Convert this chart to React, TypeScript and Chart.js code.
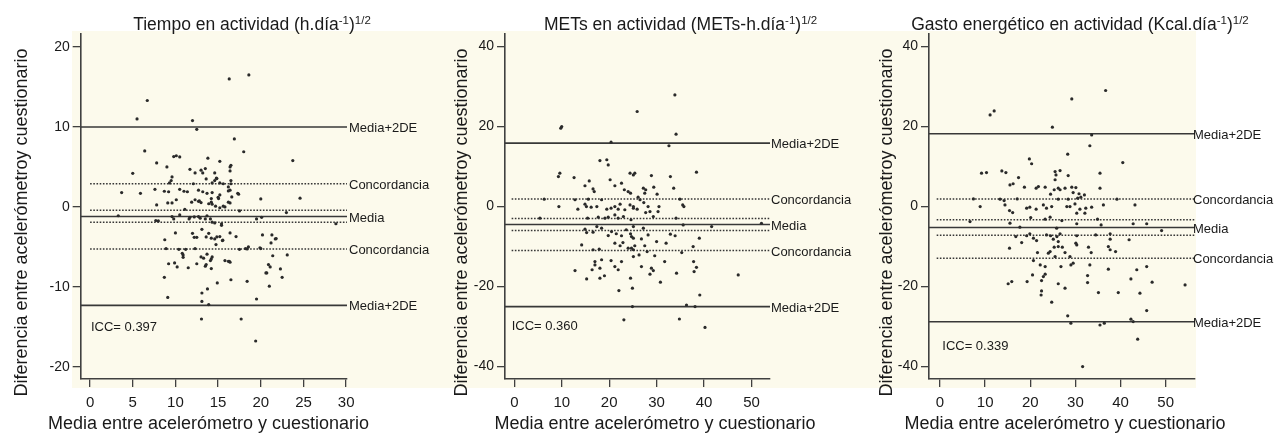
import React, { useEffect, useRef } from 'react';
import { Chart, registerables } from 'chart.js';

Chart.register(...registerables);

const FONT = '"Liberation Sans", Arial, Helvetica, sans-serif';

// ---------------- DATA ----------------
const p1Title = ['Tiempo en actividad (h.día', '-1', ')', '1/2'];
const p2Title = ['METs en actividad (METs-h.día', '-1', ')', '1/2'];
const p3Title = ['Gasto energético en actividad (Kcal.día', '-1', ')', '1/2'];

const yAxisTitle = 'Diferencia entre acelerómetroy cuestionario';
const xAxisTitle = 'Media entre acelerómetro y cuestionario';

const lineLabels = ['Media+2DE', 'Concordancia', '', 'Media', '', 'Concordancia', 'Media+2DE'];
const lineDotted = [false, true, true, false, true, true, false];

const p1Lines = [10.0, 2.9, -0.4, -1.2, -1.9, -5.25, -12.3];
const p2Lines = [15.85, 1.9, -3.0, -4.5, -6.0, -11.0, -25.0];
const p3Lines = [18.2, 1.9, -3.3, -5.25, -7.15, -12.9, -28.8];

const p1Icc = 'ICC= 0.397';
const p2Icc = 'ICC= 0.360';
const p3Icc = 'ICC= 0.339';

const p1XTicks = [0, 5, 10, 15, 20, 25, 30];
const p1YTicks = [-20, -10, 0, 10, 20];
const p2XTicks = [0, 10, 20, 30, 40, 50];
const p2YTicks = [-40, -20, 0, 20, 40];
const p3XTicks = [0, 10, 20, 30, 40, 50];
const p3YTicks = [-40, -20, 0, 20, 40];

const p1Points: [number, number][] = [
  [16.3, 16.0], [18.6, 16.5], [6.7, 13.3], [5.5, 11.0], [12.0, 10.8], [12.5, 9.7], [16.9, 8.5], [6.4, 7.0],
  [18.0, 6.9], [23.75, 5.8], [7.8, 5.5], [5.0, 4.2], [9.0, 5.0], [9.8, 6.3], [10.1, 6.4], [10.5, 6.25],
  [13.8, 6.1], [15.2, 5.7], [11.7, 4.7], [13.0, 4.6], [13.2, 4.25], [13.5, 4.8], [14.6, 4.25], [16.5, 5.2],
  [16.4, 5.0], [16.4, 4.5], [9.6, 3.75], [9.5, 3.3], [9.3, 3.0], [12.1, 2.9], [13.6, 3.5], [14.6, 3.3],
  [14.8, 3.6], [14.3, 3.0], [16.5, 3.3], [16.5, 2.9], [16.2, 2.5], [3.7, 1.8], [5.9, 1.7], [7.6, 2.2],
  [9.2, 1.9], [10.5, 2.2], [11.4, 1.9], [12.7, 2.1], [13.7, 1.7], [14.3, 1.8], [15.2, 1.5], [16.2, 2.0],
  [17.3, 1.7], [7.8, 0.25], [9.1, 0.5], [9.6, 0.5], [10.1, 0.9], [11.1, -0.3], [12.7, 0.7], [13.9, 0.4],
  [15.0, 1.2], [15.6, 0.1], [16.4, 0.5], [20.0, 1.0], [24.6, 1.1], [23.0, -0.7], [3.3, -1.1], [7.7, -1.7],
  [9.6, -1.2], [10.5, -1.0], [11.6, -1.5], [12.7, -1.2], [13.5, -1.5], [14.3, -1.9], [14.6, -2.0], [15.4, -2.1],
  [17.5, -0.5], [19.5, -1.5], [20.1, -1.3], [28.8, -2.1], [10.0, -3.25], [12.0, -3.3], [12.5, -3.8], [13.1, -2.8],
  [13.9, -3.3], [14.6, -4.0], [15.2, -3.7], [15.5, -4.2], [16.4, -3.25], [17.1, -3.7], [20.2, -3.5], [21.3, -3.5],
  [21.7, -4.0], [21.2, -4.5], [8.75, -4.1], [8.9, -5.2], [10.4, -5.3], [11.2, -5.3], [17.5, -5.3], [18.4, -5.25],
  [20.0, -5.2], [10.9, -6.0], [10.9, -6.3], [13.3, -6.4], [13.7, -5.9], [14.2, -6.5], [16.2, -6.8], [16.4, -6.9],
  [21.4, -6.1], [23.1, -6.0], [9.2, -7.1], [10.2, -7.5], [11.5, -7.6], [12.5, -7.1], [13.6, -7.2], [14.2, -7.7],
  [20.9, -7.2], [21.1, -7.5], [22.3, -7.75], [8.7, -8.8], [14.9, -9.5], [16.5, -9.1], [18.4, -9.3], [20.7, -8.25],
  [22.5, -8.8], [21.0, -9.9], [9.1, -11.3], [13.1, -10.75], [13.75, -10.25], [13.1, -11.8], [13.9, -12.2], [19.5, -11.5],
  [13.05, -14.0], [17.7, -14.0], [19.4, -16.75],
  [12.3, 4.25], [8.7, 1.96], [11.0, 1.96], [13.2, 1.9], [11.9, 0.6], [12.3, 0.9], [12.8, 0.75], [13.0, 0.55],
  [14.3, 0.35], [8.0, -1.75], [9.8, -1.5], [11.7, -1.3], [12.2, -1.25], [12.9, -1.4], [13.7, -1.1], [14.1, -1.5],
  [12.2, -3.8], [13.6, -3.75], [14.2, -3.9], [10.8, -5.8], [12.3, -5.2], [13.0, -6.25], [14.3, -6.25], [9.9, -7.0],
  [13.5, -7.4], [14.1, -6.7], [14.85, 3.55], [15.2, 3.0], [15.6, 2.9], [16.4, 2.1], [17.4, 1.6], [16.6, 1.25],
  [16.2, 0.6], [15.8, 0.0], [15.2, -0.1], [14.7, 0.1], [15.05, 1.05], [14.2, 1.05], [14.2, 0.6], [15.4, -2.3],
  [14.85, -3.75], [15.55, -4.15], [14.75, -4.7], [21.8, -3.95], [18.2, -5.2], [18.55, -5.0], [19.9, -5.1], [15.8, -6.7],
  [16.3, -6.8], [20.6, -8.25],
];

const p2Points: [number, number][] = [
  [33.85, 27.9], [25.9, 23.75],
  [10.0, 20.0], [9.8, 19.6], [18.05, 11.5], [19.5, 11.7], [19.8, 10.4], [20.4, 16.1],
  [9.3, 7.5], [9.6, 8.35], [12.6, 7.25], [14.9, 5.2], [15.8, 6.4], [16.6, 4.4], [16.85, 3.75], [20.2, 6.7],
  [21.2, 5.2], [22.6, 5.85], [23.2, 4.2], [24.0, 3.75], [24.4, 8.35], [25.1, 7.9],
  [6.3, 1.85], [9.4, 0], [12.8, 1.7], [13.4, -0.65], [14.9, 0.6], [15.2, 0], [15.6, 1.85], [16.2, -0.15],
  [17.4, 0], [18.4, 1.7], [19.5, -0.65], [20.4, -0.4], [21.2, 0], [21.9, -0.65], [22.3, 0.6], [23.3, -0.8],
  [24.4, 0.4], [25.1, -0.4],
  [5.4, -2.9], [15.45, -2.9], [17.7, -2.65], [19.1, -2.9], [19.8, -2.65], [21.2, -2.1], [21.9, -2.9], [23.0, -2.5],
  [24.6, -3.3],
  [14.9, -5.65], [15.25, -6.5], [16.6, -6.4], [17.4, -5.0], [18.4, -5.4], [19.8, -7.25], [20.5, -6.25], [21.5, -6.8],
  [22.6, -7.3], [23.6, -5.8], [24.5, -6.8], [25.1, -7.9], [14.2, -9.6], [16.6, -10.8], [17.9, -10.65], [21.2, -9.15],
  [22.3, -9.8], [22.9, -9.0], [24.0, -10.4], [25.1, -10.8],
  [17.0, -13.75], [18.4, -13.3], [17.0, -14.6], [18.05, -15.4], [20.4, -13.5], [21.2, -15.0], [21.9, -15.8], [22.6, -13.75],
  [12.8, -16.0], [16.4, -15.8], [15.25, -18.1], [18.05, -17.9], [19.0, -17.3], [22.05, -21.0], [23.1, -28.3],
  [34.1, 18.1], [32.6, 15.2],
  [25.4, 8.35], [28.9, 7.75], [32.9, 7.5], [38.4, 8.6],
  [27.2, 4.6], [27.7, 4.2], [29.4, 4.85], [30.1, 3.1], [33.6, 4.6], [27.5, 3.35],
  [24.5, 3.35], [26.1, 2.35], [26.5, 1.7], [25.1, 0], [25.9, -0.65], [27.3, 1.0], [28.2, 0], [30.5, 0],
  [28.6, -1.25], [29.3, -2.5], [27.7, -1.5], [30.3, -1.25], [34.9, 1.85], [35.5, 0.4], [35.75, 0], [34.1, -2.9],
  [25.1, -5.0], [27.2, -5.4], [35.6, -4.6], [41.6, -5.0], [52.1, -4.2],
  [24.7, -7.5], [26.8, -8.1], [28.2, -7.1], [30.0, -8.75], [32.0, -9.15], [32.9, -6.9], [33.9, -7.3], [39.0, -7.9],
  [24.7, -10.4], [25.4, -9.8], [27.5, -9.8], [25.1, -12.5], [26.3, -12.1], [28.0, -11.25], [29.6, -12.3], [31.7, -13.75],
  [35.3, -11.5], [37.7, -10.0], [37.8, -13.75], [38.4, -15.2],
  [26.8, -15.0], [28.9, -15.4], [29.3, -16.0], [28.6, -16.9], [30.8, -18.9], [34.2, -16.65], [37.9, -16.25], [24.5, -17.9],
  [24.9, -20.4], [47.2, -17.1], [39.1, -22.1],
  [24.9, -25.0], [36.3, -24.6], [38.1, -25.0], [34.8, -28.1], [40.2, -30.2],
];

const p3Points: [number, number][] = [
  [29.2, 26.9], [36.7, 29.0], [11.1, 22.9], [12.0, 23.9],
  [24.9, 19.85], [19.8, 11.9], [20.3, 10.7],
  [9.2, 8.35], [10.3, 8.5], [13.7, 8.9], [14.6, 8.5], [17.4, 7.25], [15.5, 5.4], [16.2, 5.7], [18.7, 4.85],
  [21.3, 4.6], [21.8, 5.0], [23.3, 4.85], [24.5, 3.1], [25.3, 4.2], [25.5, 8.75], [25.7, 7.9], [25.5, 6.7], [26.2, 4.6],
  [7.4, 1.9], [13.3, 1.85], [14.2, 1.5], [17.1, 1.9], [8.9, 0], [14.4, 0.4], [19.2, -0.4], [19.9, -0.15],
  [21.3, -0.65], [22.9, 0.4], [23.6, -0.4], [24.75, 0], [15.4, -1.0], [16.1, -1.5], [20.1, -2.75], [23.3, -3.15], [24.4, -2.65],
  [6.65, -3.75], [15.5, -4.15], [17.7, -5.15], [16.8, -7.5], [18.1, -9.0], [19.2, -7.3], [19.9, -6.8], [20.7, -7.9],
  [21.4, -8.5], [23.6, -7.1], [24.5, -7.3], [25.1, -8.15], [25.9, -7.5], [26.2, -8.75],
  [15.4, -10.4], [21.6, -11.5], [20.7, -13.5], [22.2, -14.6], [24.0, -11.65], [24.4, -11.25], [25.3, -10.15], [25.5, -12.5], [23.3, -15.0],
  [20.5, -17.1], [22.9, -17.5], [23.3, -16.9], [22.5, -18.5], [19.3, -18.75], [15.1, -19.3], [15.9, -18.75], [26.2, -19.3],
  [22.5, -21.1], [22.4, -22.1], [24.75, -23.9],
  [33.6, 17.9], [33.2, 15.2], [28.3, 13.1], [40.5, 11.0],
  [26.6, 9.0], [28.4, 7.75], [35.45, 8.35],
  [27.7, 4.6], [29.2, 4.85], [30.1, 4.75], [29.5, 3.5], [30.8, 3.2], [32.0, 2.9], [35.45, 4.6], [26.6, 4.2],
  [26.2, 1.85], [28.4, 1.85], [30.5, 2.1], [31.2, 2.35], [39.2, 1.85], [28.1, 0], [28.8, 0], [29.9, 0.65],
  [31.0, -0.65], [32.3, -0.4], [33.6, -0.15], [36.2, 0.4], [43.2, 0.4], [30.3, -1.65], [32.1, -1.65],
  [27.0, -3.5], [34.9, -3.15], [30.3, -4.3], [35.7, -4.6], [42.8, -4.3], [45.8, -4.3], [49.1, -6.0], [25.85, -5.4],
  [26.6, -6.8], [30.3, -7.3], [34.5, -7.1], [37.7, -8.15], [41.9, -8.3], [37.7, -6.8],
  [26.2, -10.0], [27.1, -10.15], [27.7, -11.5], [30.1, -9.15], [30.3, -9.6], [32.9, -10.15], [33.5, -11.5], [37.3, -10.0],
  [37.7, -10.8], [38.9, -11.25], [28.8, -12.5], [29.5, -14.15], [29.0, -14.6], [26.8, -15.0], [33.2, -14.6], [37.3, -15.65],
  [43.6, -15.8], [45.8, -15.0],
  [27.7, -20.4], [32.7, -17.25], [32.7, -19.0], [35.1, -21.5], [39.5, -21.5], [42.3, -18.1], [44.3, -21.65], [47.0, -18.9],
  [54.3, -19.6], [45.8, -26.0],
  [28.3, -27.3], [29.0, -29.15], [35.45, -29.6], [36.4, -29.15], [42.3, -28.15], [42.8, -28.75], [43.8, -33.15], [31.6, -40.0],
];

// ---------------- LAYOUT ----------------
type PanelCfg = {
  title: string[];
  points: [number, number][];
  lines: number[];
  icc: string;
  xTicks: number[];
  yTicks: number[];
  left: number;
  width: number;
  yAxisWidth: number;
  padRight: number;
  xMin: number; xMax: number; yMin: number; yMax: number;
  dotStart: number;
  titleCx: number;
  yTitleX: number;
  xTitleCx: number;
  iccX: number; iccY: number;
  labelGap: number;
};

const panels: PanelCfg[] = [
  {
    title: p1Title, points: p1Points, lines: p1Lines, icc: p1Icc, xTicks: p1XTicks, yTicks: p1YTicks,
    left: 0, width: 440, yAxisWidth: 80.7, padRight: 93,
    xMin: -1.1, xMax: 30.1, yMin: -21.5, yMax: 21.7, dotStart: 0,
    titleCx: 252, yTitleX: 27, xTitleCx: 208.5, iccX: 0.1, iccY: -15.0, labelGap: 2,
  },
  {
    title: p2Title, points: p2Points, lines: p2Lines, icc: p2Icc, xTicks: p2XTicks, yTicks: p2YTicks,
    left: 430, width: 430, yAxisWidth: 75, padRight: 90,
    xMin: -1.96, xMax: 53.9, yMin: -43.1, yMax: 43.3, dotStart: -0.56,
    titleCx: 680.5, yTitleX: 466.5, xTitleCx: 655, iccX: -0.55, iccY: -30.0, labelGap: 1,
  },
  {
    title: p3Title, points: p3Points, lines: p3Lines, icc: p3Icc, xTicks: p3XTicks, yTicks: p3YTicks,
    left: 855, width: 421, yAxisWidth: 74, padRight: 81,
    xMin: -2.44, xMax: 56.5, yMin: -43.1, yMax: 43.3, dotStart: -0.74,
    titleCx: 1080, yTitleX: 891.5, xTitleCx: 1065, iccX: 0.5, iccY: -35.0, labelGap: -2,
  },
];

const TEXT = '#1a1a1a';
const AXIS = '#404040';

function makeAnnotPlugin(cfg: PanelCfg) {
  return {
    id: 'annot',
    afterDraw(chart: any) {
      const ctx: CanvasRenderingContext2D = chart.ctx;
      const xs = chart.scales.x;
      const ys = chart.scales.y;
      const area = chart.chartArea;
      ctx.save();
      ctx.fillStyle = TEXT;

      // line labels
      ctx.font = `13px ${FONT}`;
      ctx.textAlign = 'left';
      ctx.textBaseline = 'middle';
      cfg.lines.forEach((v, i) => {
        const lab = lineLabels[i];
        if (!lab) return;
        ctx.fillText(lab, area.right + cfg.labelGap, ys.getPixelForValue(v) + 1.5);
      });

      // ICC
      ctx.fillText(cfg.icc, xs.getPixelForValue(cfg.iccX), ys.getPixelForValue(cfg.iccY));

      // title with superscripts
      const size = 17.5, supSize = 11.5, rise = 6.5;
      let total = 0;
      cfg.title.forEach((t, i) => {
        const sup = i % 2 === 1;
        ctx.font = `${sup ? supSize : size}px ${FONT}`;
        total += ctx.measureText(t).width;
      });
      let x = cfg.titleCx - cfg.left - total / 2;
      ctx.textBaseline = 'alphabetic';
      cfg.title.forEach((t, i) => {
        const sup = i % 2 === 1;
        ctx.font = `${sup ? supSize : size}px ${FONT}`;
        ctx.fillText(t, x, sup ? 30 - rise : 30);
        x += ctx.measureText(t).width;
      });

      // axis titles
      ctx.font = `18px ${FONT}`;
      ctx.textAlign = 'center';
      ctx.textBaseline = 'alphabetic';
      ctx.fillText(xAxisTitle, cfg.xTitleCx - cfg.left, 429);

      ctx.save();
      ctx.translate(cfg.yTitleX - cfg.left, 222.5);
      ctx.rotate(-Math.PI / 2);
      ctx.fillText(yAxisTitle, 0, 0);
      ctx.restore();

      ctx.restore();
    },
  };
}

function Panel({ cfg }: { cfg: PanelCfg }) {
  const ref = useRef<HTMLCanvasElement>(null);
  useEffect(() => {
    const canvas = ref.current!;
    const lineSets = cfg.lines.map((v, i) => ({
      type: 'line' as const,
      data: [
        { x: lineDotted[i] ? cfg.dotStart : cfg.xMin, y: v },
        { x: cfg.xMax, y: v },
      ],
      borderColor: lineDotted[i] ? '#353535' : '#383838',
      borderWidth: lineDotted[i] ? 1.5 : 1.6,
      borderDash: lineDotted[i] ? [1.6, 1.6] : [],
      pointRadius: 0,
      fill: false,
      order: 1,
    }));
    const chart = new Chart(canvas, {
      type: 'scatter',
      data: {
        datasets: [
          {
            type: 'scatter' as const,
            data: cfg.points.map(([x, y]) => ({ x, y })),
            pointRadius: 1.6,
            pointHoverRadius: 1.6,
            backgroundColor: '#2a2a2a',
            borderWidth: 0,
            order: 0,
          },
          ...lineSets,
        ] as any,
      },
      options: {
        responsive: false,
        animation: false,
        events: [],
        layout: { padding: { left: 0, top: 33.3, right: cfg.padRight, bottom: 8 } },
        plugins: {
          legend: { display: false },
          tooltip: { enabled: false },
          title: { display: false },
        },
        scales: {
          x: {
            type: 'linear',
            min: cfg.xMin,
            max: cfg.xMax,
            afterBuildTicks: (s: any) => { s.ticks = cfg.xTicks.map((v) => ({ value: v })); },
            afterFit: (s: any) => { s.height = 50; },
            grid: { display: true, drawOnChartArea: false, drawTicks: true, tickLength: 8, color: AXIS, lineWidth: 1.3 },
            border: { display: true, color: AXIS, width: 1.6 },
            ticks: { font: { family: FONT, size: 15 }, color: TEXT, padding: 7, maxRotation: 0, autoSkip: false },
          },
          y: {
            type: 'linear',
            min: cfg.yMin,
            max: cfg.yMax,
            afterBuildTicks: (s: any) => { s.ticks = cfg.yTicks.map((v) => ({ value: v })); },
            afterFit: (s: any) => { s.width = cfg.yAxisWidth; },
            grid: { display: true, drawOnChartArea: false, drawTicks: true, tickLength: 8, color: AXIS, lineWidth: 1.3 },
            border: { display: true, color: AXIS, width: 1.6 },
            ticks: { font: { family: FONT, size: 14 }, color: TEXT, padding: 3, autoSkip: false },
          },
        },
      } as any,
      plugins: [makeAnnotPlugin(cfg)],
    });
    return () => chart.destroy();
  }, [cfg]);
  return (
    <canvas
      ref={ref}
      width={cfg.width}
      height={437}
      style={{ position: 'absolute', left: cfg.left, top: 0, width: cfg.width, height: 437 }}
    />
  );
}

export default function App() {
  return (
    <div style={{ position: 'absolute', left: 0, top: 0, width: 1276, height: 437, background: '#ffffff', overflow: 'hidden' }}>
      <div style={{ position: 'absolute', left: 72, top: 31, width: 1124, height: 357, background: '#FCFAEC' }} />
      {panels.map((p, i) => (
        <Panel key={i} cfg={p} />
      ))}
    </div>
  );
}
